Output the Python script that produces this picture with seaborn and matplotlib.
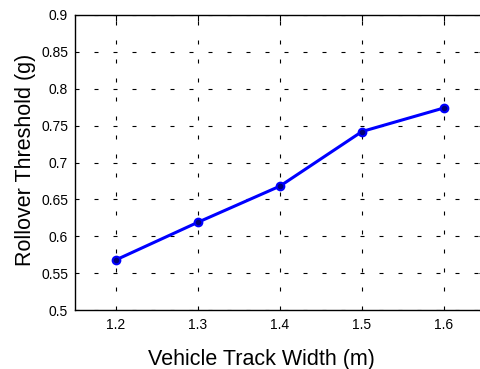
import matplotlib
matplotlib.use("Agg")
import matplotlib.pyplot as plt
import seaborn as sns
import pandas as pd

track_width = [1.2, 1.3, 1.4, 1.5, 1.6]
rollover_threshold = [0.568, 0.619, 0.668, 0.742, 0.774]
x_ticks = [1.2, 1.3, 1.4, 1.5, 1.6]
y_ticks = [0.5, 0.55, 0.6, 0.65, 0.7, 0.75, 0.8, 0.85, 0.9]

sns.set_style("white")
plt.rcParams['font.family'] = ['Liberation Sans', 'DejaVu Sans']
plt.rcParams['text.color'] = 'black'
plt.rcParams['axes.labelcolor'] = 'black'

df = pd.DataFrame({"w": track_width, "t": rollover_threshold})

fig = plt.figure(figsize=(4.81, 3.69), dpi=100)
ax = fig.add_axes([75/481, 1-310/369, (485-75)/481, (310-15)/369])

sns.lineplot(data=df, x="w", y="t", ax=ax, color="#0000ff", linewidth=2.2,
             marker="o", markersize=5.5, markerfacecolor="#00007a",
             markeredgecolor="#0000ff", markeredgewidth=1.5)

ax.set_xlim(1.15, 1.65)
ax.set_ylim(0.5, 0.9)
ax.set_xticks(x_ticks)
ax.set_xticklabels([f"{v:g}" for v in x_ticks])
ax.set_yticks(y_ticks)
ax.set_yticklabels([f"{v:g}" for v in y_ticks])
ax.tick_params(direction="in", length=4, width=0.8, labelsize=10, colors="black",
               top=True, right=True)
ax.tick_params(axis="x", pad=6)
ax.tick_params(axis="y", pad=5)
ax.grid(True, color="black", linestyle=(0, (3.6, 13.5)), linewidth=0.8)
for s in ax.spines.values():
    s.set_color("black")
    s.set_linewidth(1.0)
ax.set_xlabel("Vehicle Track Width (m)", fontsize=15.5, color="black")
ax.set_ylabel("Rollover Threshold (g)", fontsize=15.5, color="black")
ax.xaxis.set_label_coords((261.5-75)/410, (310-359)/295)
ax.xaxis.label.set_va("center")
ax.yaxis.set_label_coords((25.5-75)/410, (310-160)/295)
ax.yaxis.label.set_va("center")

fig.savefig("out.png", dpi=100)
